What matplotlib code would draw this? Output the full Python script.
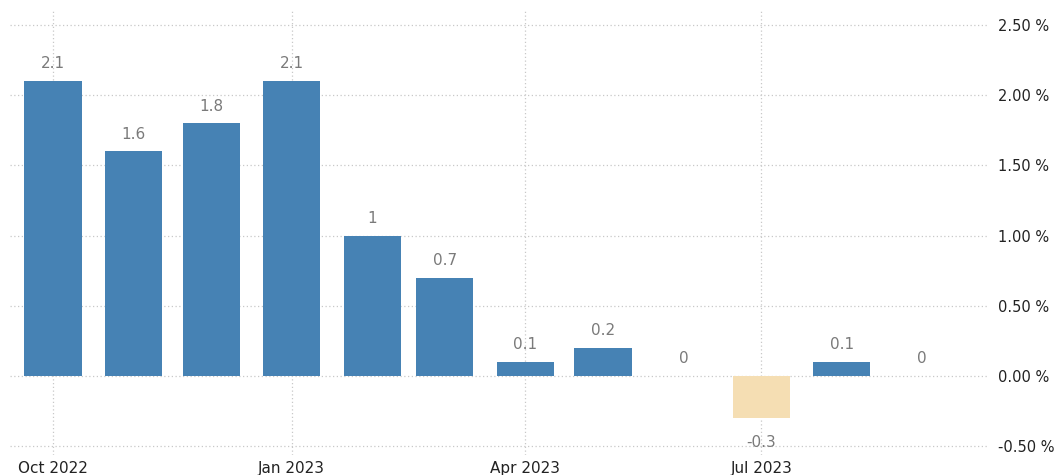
import matplotlib
matplotlib.use("Agg")
import matplotlib.pyplot as plt
import datetime as dt

months = ["2022-10", "2022-11", "2022-12", "2023-01", "2023-02", "2023-03",
          "2023-04", "2023-05", "2023-06", "2023-07", "2023-08", "2023-09"]
values = [2.1, 1.6, 1.8, 2.1, 1.0, 0.7, 0.1, 0.2, 0.0, -0.3, 0.1, 0.0]
labels = ["2.1", "1.6", "1.8", "2.1", "1", "0.7", "0.1", "0.2", "0", "-0.3", "0.1", "0"]
xtick_months = ["2022-10", "2023-01", "2023-04", "2023-07"]
yticks = [-0.5, 0.0, 0.5, 1.0, 1.5, 2.0, 2.5]

dates = [dt.datetime.strptime(m, "%Y-%m") for m in months]
xt = [dt.datetime.strptime(m, "%Y-%m") for m in xtick_months]

W, H = 1059, 475
fig = plt.figure(figsize=(W / 100, H / 100), dpi=100)
ax = fig.add_axes([10 / W, 1 - 455 / H, (987 - 10) / W, (455 - 10) / H])

pos_col = "#4682B4"
neg_col = "#F5DEB3"
colors = [pos_col if v >= 0 else neg_col for v in values]
ax.bar(dates, values, width=22, color=colors, align="center", zorder=2)

for d, v, s in zip(dates, values, labels):
    if v >= 0:
        ax.annotate(s, (d, v), xytext=(0, 7), textcoords="offset points",
                    ha="center", va="bottom", color="#7a7a7a", fontsize=11)
    else:
        ax.annotate(s, (d, v), xytext=(0, -12), textcoords="offset points",
                    ha="center", va="top", color="#7a7a7a", fontsize=11)

ax.set_xlim(dt.datetime(2022, 9, 14, 10), dt.datetime(2023, 9, 26))
ax.set_ylim(-0.564, 2.607)
ax.set_yticks(yticks)
ax.set_yticklabels([f"{t:.2f} %" for t in yticks])
ax.yaxis.tick_right()
ax.set_xticks(xt)
ax.set_xticklabels([d.strftime("%b %Y") for d in xt])
ax.tick_params(axis="both", length=0, colors="#222222")
ax.tick_params(axis="y", pad=8, labelsize=10.5)
ax.tick_params(axis="x", pad=4, labelsize=11)
for sp in ax.spines.values():
    sp.set_visible(False)
ax.grid(True, linestyle=(0, (1, 2)), color="#c8c8c8", linewidth=0.9, zorder=0)
ax.set_axisbelow(True)

fig.savefig("out.png", dpi=100)
